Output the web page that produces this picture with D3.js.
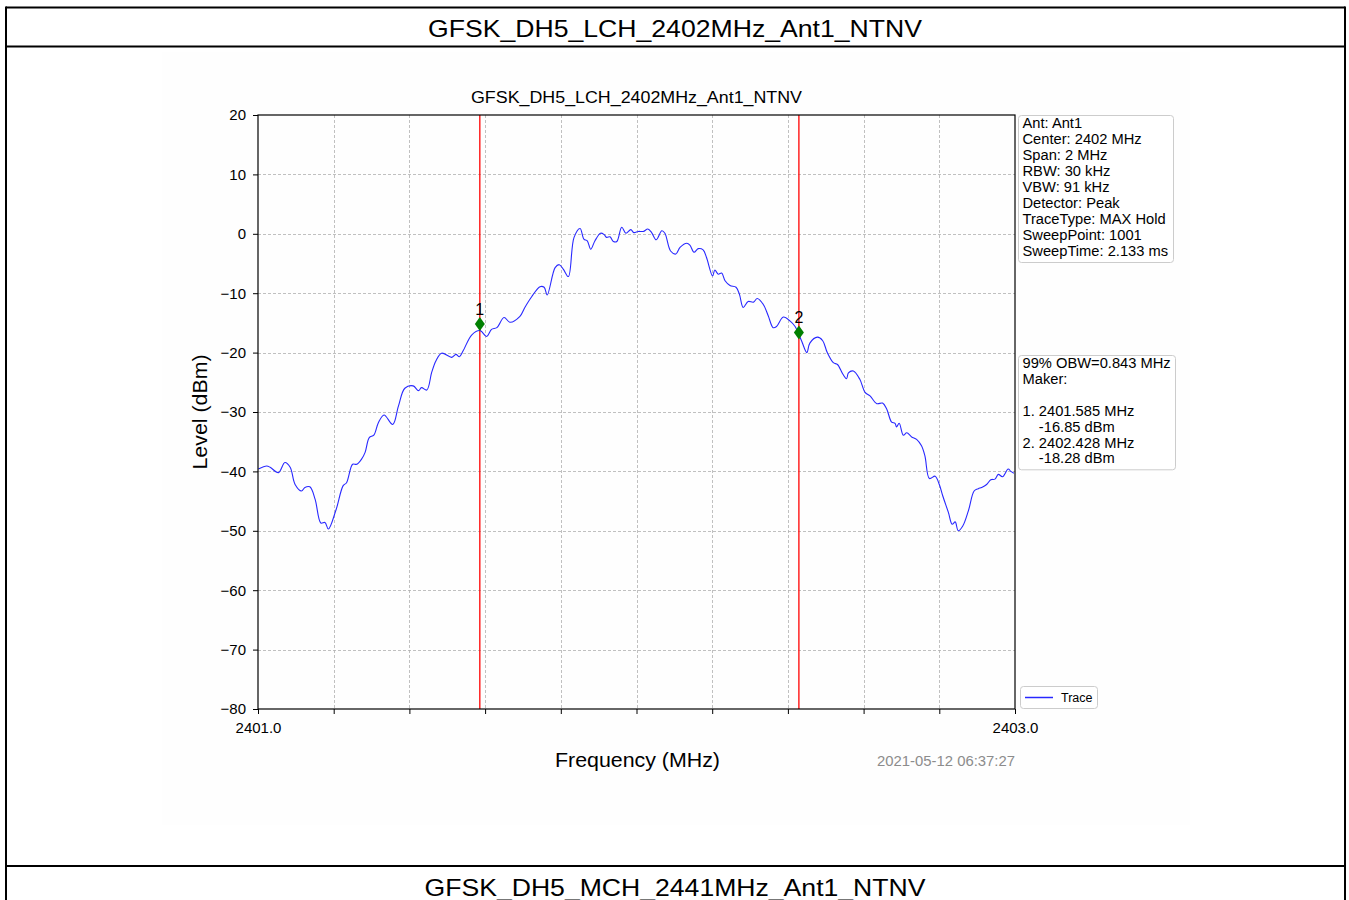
<!DOCTYPE html>
<html>
<head>
<meta charset="utf-8">
<script src="https://cdn.jsdelivr.net/npm/d3@7"></script>
<style>
  html, body { margin: 0; padding: 0; background: #fff; }
  svg { display: block; font-family: "Liberation Sans", Arial, sans-serif; }
</style>
</head>
<body>
<svg id="chart" width="1349" height="900"></svg>
<script>
// ---------- data ----------
const pageTitle = "GFSK_DH5_LCH_2402MHz_Ant1_NTNV";
const nextTitle = "GFSK_DH5_MCH_2441MHz_Ant1_NTNV";
const chartTitle = "GFSK_DH5_LCH_2402MHz_Ant1_NTNV";
const xLabel = "Frequency (MHz)";
const yLabel = "Level (dBm)";
const timestamp = "2021-05-12 06:37:27";

const freqDomain = [2401.0, 2403.0];
const levelDomain = [-80, 20];
const levelTicks = [20, 10, 0, -10, -20, -30, -40, -50, -60, -70, -80];
const freqTicks = [2401.0, 2401.2, 2401.4, 2401.6, 2401.8, 2402.0, 2402.2, 2402.4, 2402.6, 2402.8, 2403.0];
const freqTickLabels = ["2401.0", "", "", "", "", "", "", "", "", "", "2403.0"];

const traceFreq = [
  2401.001, 2401.023, 2401.032, 2401.054, 2401.071, 2401.085, 2401.098, 2401.115, 2401.124, 2401.137,
  2401.151, 2401.166, 2401.177, 2401.186, 2401.206, 2401.225, 2401.234, 2401.250, 2401.261, 2401.274,
  2401.283, 2401.294, 2401.306, 2401.318, 2401.333, 2401.356, 2401.371, 2401.388, 2401.410, 2401.424,
  2401.432, 2401.446, 2401.459, 2401.470, 2401.485, 2401.512, 2401.523, 2401.532, 2401.542, 2401.565,
  2401.587, 2401.604, 2401.617, 2401.631, 2401.650, 2401.666, 2401.692, 2401.705, 2401.723, 2401.745,
  2401.756, 2401.764, 2401.785, 2401.796, 2401.807, 2401.820, 2401.835, 2401.851, 2401.861, 2401.870,
  2401.879, 2401.890, 2401.905, 2401.914, 2401.921, 2401.930, 2401.939, 2401.948, 2401.961, 2401.972,
  2401.985, 2401.993, 2402.005, 2402.018, 2402.030, 2402.040, 2402.052, 2402.067, 2402.075, 2402.090,
  2402.104, 2402.115, 2402.133, 2402.141, 2402.152, 2402.163, 2402.176, 2402.185, 2402.201, 2402.207,
  2402.216, 2402.225, 2402.234, 2402.247, 2402.263, 2402.272, 2402.282, 2402.295, 2402.309, 2402.319,
  2402.335, 2402.348, 2402.361, 2402.370, 2402.388, 2402.406, 2402.419, 2402.436, 2402.450, 2402.458,
  2402.478, 2402.492, 2402.504, 2402.520, 2402.531, 2402.545, 2402.555, 2402.560, 2402.573, 2402.590,
  2402.604, 2402.617, 2402.635, 2402.650, 2402.661, 2402.674, 2402.683, 2402.687, 2402.694, 2402.705,
  2402.714, 2402.727, 2402.740, 2402.753, 2402.762, 2402.774, 2402.789, 2402.800, 2402.809, 2402.824,
  2402.834, 2402.842, 2402.850, 2402.862, 2402.877, 2402.892, 2402.903, 2402.912, 2402.925, 2402.936,
  2402.947, 2402.956, 2402.967, 2402.982, 2402.989, 2402.997
];
const traceLevel = [
  -39.6, -39.1, -39.3, -40.2, -38.5, -39.3, -42.2, -43.3, -42.7, -42.6,
  -44.7, -48.7, -48.6, -49.7, -46.5, -42.4, -41.9, -38.8, -38.8, -37.9,
  -36.8, -34.3, -33.9, -31.8, -30.5, -32.1, -29.0, -26.0, -25.6, -26.4,
  -25.9, -26.3, -23.3, -21.4, -20.1, -20.8, -20.3, -20.7, -19.7, -17.0,
  -16.3, -17.3, -16.1, -15.8, -14.1, -14.9, -13.9, -12.4, -10.6, -8.9,
  -9.0, -10.3, -5.7, -5.2, -6.0, -7.2, -0.6, 0.9, -0.9, -1.2,
  -2.6, -1.2, 0.1, -0.1, -0.6, -0.5, -1.3, -1.3, 1.1, 0.1,
  0.7, 0.2, 0.4, 0.4, 0.8, 0.2, -1.0, 0.5, 0.1, -2.9,
  -3.4, -2.3, -1.6, -1.9, -3.1, -2.5, -2.7, -4.0, -7.1, -6.1,
  -6.8, -6.6, -7.9, -8.7, -9.0, -10.2, -12.4, -11.4, -11.5, -10.9,
  -11.9, -13.8, -15.8, -15.6, -14.0, -14.7, -15.6, -18.0, -20.0, -18.4,
  -17.4, -18.0, -20.0, -21.7, -22.0, -23.6, -24.4, -23.4, -23.1, -24.5,
  -26.7, -27.3, -28.6, -28.5, -29.5, -31.7, -31.9, -32.5, -31.9, -33.9,
  -33.5, -34.2, -34.6, -35.7, -37.4, -41.2, -40.8, -42.2, -44.1, -46.9,
  -48.9, -48.5, -50.0, -49.2, -46.6, -43.3, -42.9, -42.7, -42.2, -41.4,
  -41.3, -40.5, -40.9, -39.6, -40.0, -40.3
];

const markerIds = ["1", "2"];
const markerFreq = [2401.585, 2402.428];
const markerLevel = [-15.2, -16.6];

const infoLines = ["Ant: Ant1", "Center: 2402 MHz", "Span: 2 MHz", "RBW: 30 kHz", "VBW: 91 kHz",
  "Detector: Peak", "TraceType: MAX Hold", "SweepPoint: 1001", "SweepTime: 2.133 ms"];
const obwLines = ["99% OBW=0.843 MHz", "Maker:", "", "1. 2401.585 MHz", "    -16.85 dBm",
  "2. 2402.428 MHz", "    -18.28 dBm"];
const legendLabel = "Trace";

// ---------- drawing ----------
const svg = d3.select("#chart");

svg.append("rect").attr("x", 0).attr("y", 0).attr("width", 1349).attr("height", 900).attr("fill", "#fff");
// chart image background (very faint)
svg.append("rect").attr("x", 162).attr("y", 52).attr("width", 1028).attr("height", 773).attr("fill", "#fefefe");

const frame = svg.append("g").attr("stroke", "#000").attr("stroke-width", 2).attr("fill", "none");
frame.append("line").attr("x1", 6).attr("x2", 1345).attr("y1", 7.5).attr("y2", 7.5);
frame.append("line").attr("x1", 6).attr("x2", 1345).attr("y1", 46.5).attr("y2", 46.5);
frame.append("line").attr("x1", 6).attr("x2", 1345).attr("y1", 866).attr("y2", 866);
frame.append("line").attr("x1", 6).attr("x2", 6).attr("y1", 6.5).attr("y2", 900);
frame.append("line").attr("x1", 1345).attr("x2", 1345).attr("y1", 6.5).attr("y2", 900);

svg.append("text").attr("x", 675).attr("y", 37).attr("text-anchor", "middle")
  .attr("font-size", 24).attr("textLength", 494).attr("lengthAdjust", "spacingAndGlyphs")
  .text(pageTitle);
svg.append("text").attr("x", 675).attr("y", 896).attr("text-anchor", "middle")
  .attr("font-size", 24).attr("textLength", 501).attr("lengthAdjust", "spacingAndGlyphs")
  .text(nextTitle);

// plot area
const L = 258, R = 1015, T = 115, B = 709;
const x = d3.scaleLinear().domain(freqDomain).range([L, R]);
const y = d3.scaleLinear().domain(levelDomain).range([B, T]);
const px = v => Math.round(v) + 0.5;

// grid
const grid = svg.append("g").attr("stroke", "#b0b0b0").attr("stroke-width", 0.8).attr("stroke-dasharray", "3,2");
grid.selectAll(".gx").data(freqTicks.slice(1, -1)).enter().append("line")
  .attr("x1", d => px(x(d))).attr("x2", d => px(x(d))).attr("y1", T).attr("y2", B);
grid.selectAll(".gy").data(levelTicks.slice(1, -1)).enter().append("line")
  .attr("y1", d => px(y(d))).attr("y2", d => px(y(d))).attr("x1", L).attr("x2", R);

// red marker lines
svg.selectAll(".mline").data(markerFreq).enter().append("line")
  .attr("x1", d => x(d) + 0.4).attr("x2", d => x(d) + 0.4).attr("y1", T).attr("y2", B)
  .attr("stroke", "#ff0000").attr("stroke-width", 1.3);

// trace
const traceData = traceFreq.map((f, i) => [f, traceLevel[i]]);
svg.append("path").datum(traceData)
  .attr("fill", "none").attr("stroke", "#2828ff").attr("stroke-width", 1.1)
  .attr("d", d3.line().x(d => x(d[0])).y(d => y(d[1])).curve(d3.curveCatmullRom.alpha(0.5)));

// markers
const mk = svg.selectAll(".mk").data(markerFreq).enter().append("g")
  .attr("transform", (d, i) => `translate(${x(d) + 0.4},${y(markerLevel[i])})`);
mk.append("path").attr("d", "M0,-7 L5,0 L0,7 L-5,0 Z").attr("fill", "green");
mk.append("text").attr("y", -9).attr("text-anchor", "middle").attr("font-size", 16)
  .text((d, i) => markerIds[i]);

// axes
const yAxis = d3.axisLeft(y).tickValues(levelTicks).tickSize(5).tickPadding(7)
  .tickFormat(d => d < 0 ? "\u2212" + Math.abs(d) : String(d));
const gy = svg.append("g").attr("transform", `translate(${L},0)`).call(yAxis);
gy.select(".domain").remove();
gy.selectAll("text").attr("font-size", 15).attr("font-family", "Liberation Sans, Arial, sans-serif").attr("fill", "#000");

const xAxis = d3.axisBottom(x).tickValues(freqTicks).tickSize(5).tickPadding(8)
  .tickFormat((d, i) => freqTickLabels[i]);
const gx = svg.append("g").attr("transform", `translate(0,${B})`).call(xAxis);
gx.select(".domain").remove();
gx.selectAll("text").attr("font-size", 15).attr("font-family", "Liberation Sans, Arial, sans-serif").attr("fill", "#000");

svg.append("rect").attr("x", L).attr("y", T).attr("width", R - L).attr("height", B - T)
  .attr("fill", "none").attr("stroke", "#000").attr("stroke-width", 1.2);

// titles / labels
svg.append("text").attr("x", (L + R) / 2).attr("y", 103).attr("text-anchor", "middle")
  .attr("font-size", 16).attr("textLength", 331).attr("lengthAdjust", "spacingAndGlyphs").text(chartTitle);
svg.append("text").attr("x", (L + R) / 2 + 1).attr("y", 767).attr("text-anchor", "middle")
  .attr("font-size", 20).attr("textLength", 165).attr("lengthAdjust", "spacingAndGlyphs").text(xLabel);
svg.append("text").attr("transform", `translate(207,${(T + B) / 2}) rotate(-90)`).attr("text-anchor", "middle")
  .attr("font-size", 20).attr("textLength", 115).attr("lengthAdjust", "spacingAndGlyphs").text(yLabel);
svg.append("text").attr("x", R).attr("y", 766).attr("text-anchor", "end")
  .attr("font-size", 14).attr("fill", "#8c8c8c").attr("textLength", 138).attr("lengthAdjust", "spacingAndGlyphs")
  .text(timestamp);

// info box
function infoBox(x0, y0, w, lines, lineH, fs) {
  const g = svg.append("g");
  g.append("rect").attr("x", x0).attr("y", y0).attr("width", w).attr("height", lines.length * lineH + 3)
    .attr("rx", 3).attr("fill", "#fff").attr("stroke", "#cccccc").attr("stroke-width", 1);
  g.selectAll("text").data(lines).enter().append("text")
    .attr("x", x0 + 4).attr("y", (d, i) => y0 + 12.5 + i * lineH)
    .attr("font-size", fs).attr("xml:space", "preserve").style("white-space", "pre").text(d => d);
}
infoBox(1018.5, 115.5, 155, infoLines, 16, 14.7);
infoBox(1018.5, 355.5, 157, obwLines, 15.9, 14.7);

// legend
const lg = svg.append("g");
lg.append("rect").attr("x", 1020.5).attr("y", 686.5).attr("width", 77).attr("height", 22)
  .attr("rx", 3).attr("fill", "#fff").attr("stroke", "#cccccc");
lg.append("line").attr("x1", 1025).attr("x2", 1053).attr("y1", 697.5).attr("y2", 697.5)
  .attr("stroke", "#2828ff").attr("stroke-width", 1.5);
lg.append("text").attr("x", 1061).attr("y", 702).attr("font-size", 12.5).text(legendLabel);
</script>
</body>
</html>
